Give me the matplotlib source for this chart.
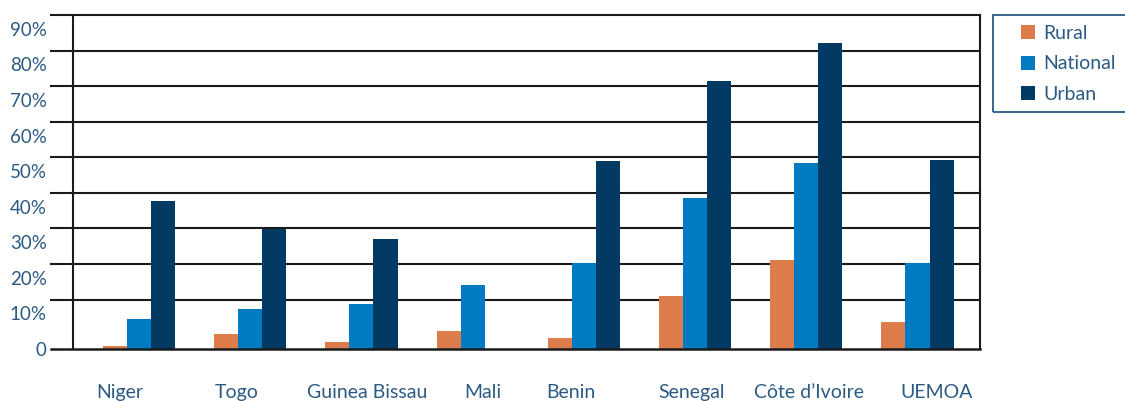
import numpy as np
from matplotlib import pyplot as plt
from matplotlib import transforms
from matplotlib.patches import Patch, Rectangle

countries = ["Niger", "Togo", "Guinea Bissau", "Mali", "Benin", "Senegal", "Côte d’Ivoire", "UEMOA"]
rural = [0.9, 4.2, 1.9, 5.0, 3.1, 14.9, 25.0, 7.6]
national = [8.4, 11.2, 12.7, 18.0, 24.2, 42.5, 52.3, 24.2]
urban = [41.6, 33.7, 30.9, 0.0, 52.9, 75.4, 86.0, 53.1]
y_ticks = [0, 10, 20, 30, 40, 50, 60, 70, 80, 90]
y_tick_labels = ["0"] + [f"{v}%" for v in y_ticks[1:]]

text_color = "#2b5a84"
colors = {"Rural": "#dc7d4b", "National": "#007bc2", "Urban": "#033a63"}
# the source's category labels are not quite centred under the groups (pixels)
label_shift = [-19, -14, 6, 10, -13, -3, 3, 19]

plt.rcParams["font.family"] = ["Lato", "DejaVu Sans"]

fig = plt.figure(figsize=(11.25, 4.01), dpi=100)
ax = fig.add_axes([73 / 1125, 1 - 349 / 401, 907 / 1125, 334 / 401])

x = np.arange(len(countries))
w = 0.216
ax.bar(x - w, rural, w, color=colors["Rural"], zorder=3)
ax.bar(x, national, w, color=colors["National"], zorder=3)
ax.bar(x + w, urban, w, color=colors["Urban"], zorder=3)

# gridlines in the source sit a little above their labels
grid_offset = 3.9
ax.set_ylim(0, 90 + grid_offset)
ax.set_xlim(-0.594, 7.562)
for v in y_ticks[1:]:
    ax.axhline(v + grid_offset, xmin=-0.024, xmax=1.0, color="#1a1a1a", lw=1.5, clip_on=False, zorder=1)
ax.axhline(0, xmin=-0.024, xmax=1.0, color="#1a1a1a", lw=1.8, clip_on=False, zorder=4)

for side in ["top", "bottom"]:
    ax.spines[side].set_visible(False)
for side in ["left", "right"]:
    ax.spines[side].set_color("#1a1a1a")
    ax.spines[side].set_linewidth(1.5)

ax.set_yticks(y_ticks)
ax.set_yticklabels(y_tick_labels)
ax.set_xticks(x)
ax.set_xticklabels(countries)
ax.tick_params(axis="y", length=0, pad=19, labelsize=13.5, labelcolor=text_color)
ax.tick_params(axis="x", length=0, pad=25.5, labelsize=14, labelcolor=text_color)
for lab, dx in zip(ax.get_xticklabels(), label_shift):
    lab.set_transform(lab.get_transform() + transforms.ScaledTranslation(dx / 100, 0, fig.dpi_scale_trans))

# legend box drawn separately so the inner padding can match the source
fig.add_artist(Rectangle((993 / 1125, 1 - 112 / 401), 140 / 1125, 97 / 401,
                         transform=fig.transFigure, fill=False, edgecolor=text_color, lw=1.3))
handles = [Patch(facecolor=c, label=k) for k, c in colors.items()]
leg = fig.legend(handles=handles, loc="upper left", bbox_to_anchor=(1021 / 1125, 1 - 25 / 401),
                 fontsize=14, frameon=False, handlelength=0.72, handleheight=0.72,
                 handletextpad=0.42, labelspacing=0.69, borderpad=0, borderaxespad=0)
for t in leg.get_texts():
    t.set_color(text_color)

plt.savefig("out.png", dpi=100)
